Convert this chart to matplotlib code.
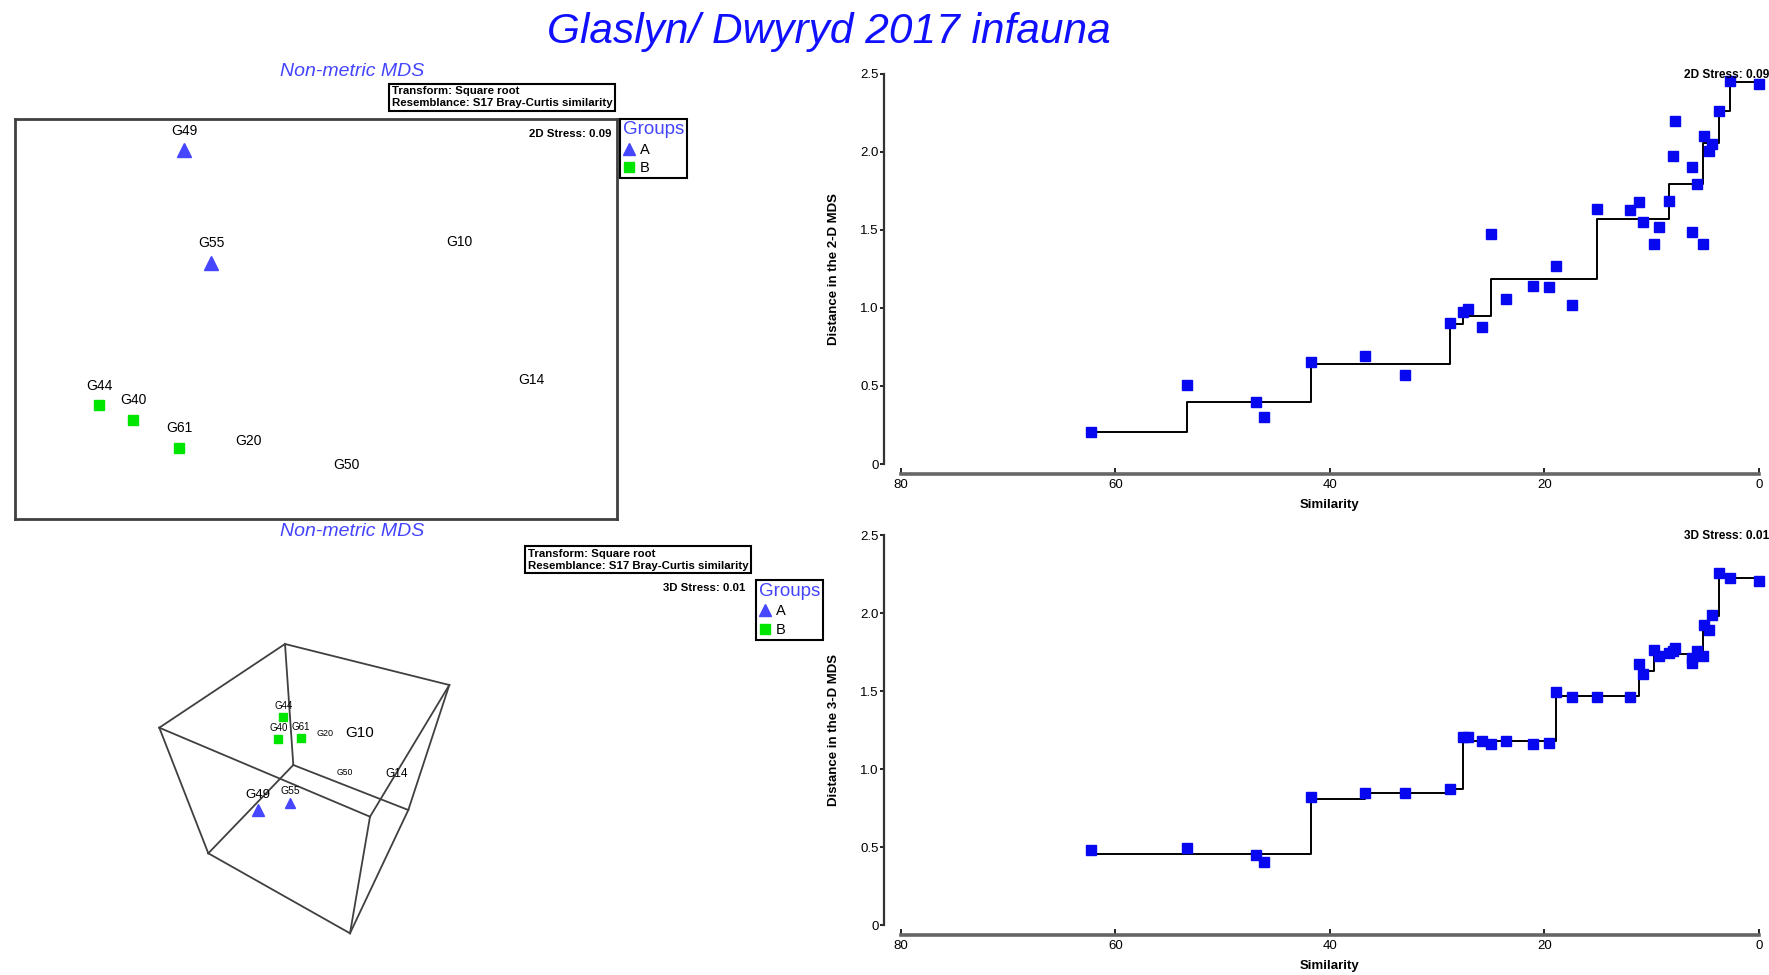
import matplotlib
matplotlib.use("Agg")
import matplotlib.pyplot as plt
from matplotlib.lines import Line2D

plt.rcParams['font.family'] = ['Liberation Sans', 'DejaVu Sans']

W, H = 1769, 975

BLUE_T = "#1010ff"      # main title
BLUE_S = "#4444ff"      # sub titles / legend titles
COL_A = "#4646ff"       # group A triangles
COL_B = "#00e600"       # group B squares
COL_SH = "#0808f0"      # shepard points

# --- nMDS ordination ------------------------------------------------------
samples = ["G49", "G55", "G10", "G14", "G44", "G40", "G61", "G20", "G50"]
groups = ["A", "A", "", "", "B", "B", "B", "", ""]

# 2D configuration
mds2_x = [-0.657, -0.522, 0.713, 1.073, -1.079, -0.910, -0.680, -0.337, 0.152]
mds2_y = [0.840, 0.278, 0.283, -0.403, -0.430, -0.503, -0.643, -0.703, -0.824]

# 3D configuration, projected to the screen plane
mds3_px = [-0.473, -0.150, 0.550, 0.917, -0.217, -0.267, -0.043, 0.200, 0.400]
mds3_py = [-0.250, -0.177, 0.341, -0.026, 0.683, 0.460, 0.467, 0.413, 0.021]
mds3_fs = [9.5, 7.5, 11, 8.5, 7, 7, 7, 6.5, 6.2]      # depth cue (label size)

# projected bounding cube of the 3D plot
cube_x = [-0.200, 1.443, -1.457, -0.117, 1.033, 0.650, -0.967, 0.450]
cube_y = [1.410, 1.000, 0.573, 0.200, -0.250, -0.317, -0.683, -1.483]
cube_edges = [(0, 1), (1, 5), (5, 2), (2, 0), (3, 4), (4, 7), (7, 6), (6, 3),
              (0, 3), (1, 4), (5, 7), (2, 6)]

# --- Shepard diagrams -----------------------------------------------------
similarity = [62.3, 53.3, 46.9, 46.1, 41.8, 36.7, 33.0, 28.8, 27.6, 27.1, 25.8, 25.0,
              23.6, 21.1, 19.6, 18.9, 17.4, 15.1, 12.0, 11.2, 10.8, 9.8, 9.3, 8.4,
              8.05, 7.8, 6.2, 6.2, 5.8, 5.25, 5.1, 4.7, 4.4, 3.75, 2.74, 0.0]
dist_2d = [0.203, 0.509, 0.400, 0.300, 0.652, 0.694, 0.571, 0.904, 0.972, 0.994, 0.880, 1.474,
           1.058, 1.139, 1.132, 1.271, 1.019, 1.635, 1.630, 1.682, 1.549, 1.410, 1.517, 1.688,
           1.976, 2.201, 1.902, 1.485, 1.795, 1.410, 2.105, 2.009, 2.051, 2.265, 2.453, 2.436]
dist_3d = [0.479, 0.494, 0.447, 0.404, 0.819, 0.847, 0.847, 0.872, 1.202, 1.202, 1.181, 1.160,
           1.181, 1.160, 1.166, 1.494, 1.464, 1.464, 1.464, 1.670, 1.606, 1.766, 1.723, 1.745,
           1.755, 1.777, 1.681, 1.713, 1.755, 1.723, 1.926, 1.894, 1.989, 2.255, 2.223, 2.202]

# monotone regression (step line), breakpoints
fit2_x = [62.3, 53.3, 41.8, 28.8, 27.6, 25.0, 15.1, 8.4, 5.25, 3.75, 2.74, 0.0]
fit2_y = [0.203, 0.400, 0.641, 0.897, 0.950, 1.186, 1.571, 1.795, 2.060, 2.265, 2.447, 2.447]
fit3_x = [62.3, 41.8, 36.7, 28.8, 27.6, 18.9, 11.2, 9.8, 5.25, 4.7, 3.75, 0.0]
fit3_y = [0.456, 0.809, 0.845, 0.872, 1.180, 1.468, 1.628, 1.734, 1.915, 1.979, 2.223, 2.223]

fig = plt.figure(figsize=(W / 100, H / 100), dpi=100)


def fx(px):
    return px / W


def fy(py):
    return 1 - py / H


def info_box(x, y):
    fig.text(fx(x), fy(y), "Transform: Square root\nResemblance: S17 Bray-Curtis similarity",
             ha="left", va="top", fontsize=8.2, fontweight="bold", linespacing=1.2,
             bbox=dict(boxstyle="square,pad=0.25", fc="white", ec="black", lw=1.5))


def group_legend(x, y):
    handles = [Line2D([], [], ls="none", marker="^", color=COL_A, ms=9),
               Line2D([], [], ls="none", marker="s", color=COL_B, ms=7)]
    leg = fig.legend(handles, ["A", "B"], loc="upper left", bbox_to_anchor=(fx(x), fy(y)),
                     title="Groups", title_fontsize=13.5, fontsize=10.5, frameon=True,
                     fancybox=False, edgecolor="black", framealpha=1, borderpad=0.2,
                     labelspacing=0.3, handlelength=0.8, handletextpad=0.35,
                     borderaxespad=0, alignment="left")
    leg.get_title().set_color(BLUE_S)
    leg.get_frame().set_linewidth(1.5)


fig.text(fx(829), fy(32), "Glaslyn/ Dwyryd 2017 infauna", ha="center", va="center",
         fontsize=30.5, style="italic", color=BLUE_T)

# ---- 2D MDS panel --------------------------------------------------------
ax2 = fig.add_axes([fx(14.7), fy(519), (617 - 14.7) / W, (519 - 118.5) / H])
ax2.set_xlim(-1.5, 1.5)
ax2.set_ylim(-0.997, 0.997)
ax2.set_xticks([])
ax2.set_yticks([])
for s in ax2.spines.values():
    s.set_linewidth(2)
    s.set_color("0.25")
for name, g, x, y in zip(samples, groups, mds2_x, mds2_y):
    if g == "A":
        ax2.plot(x, y, "^", color=COL_A, ms=10)
    elif g == "B":
        ax2.plot(x, y, "s", color=COL_B, ms=7.5)
    ax2.annotate(name, (x, y), xytext=(0, 14), textcoords="offset points",
                 ha="center", va="center", fontsize=10)
ax2.text(0.99, 0.975, "2D Stress: 0.09", transform=ax2.transAxes, ha="right", va="top",
         fontsize=8.2, fontweight="bold")

fig.text(fx(352.5), fy(71), "Non-metric MDS", ha="center", va="center",
         fontsize=14, style="italic", color=BLUE_S)
info_box(391.5, 86.5)
group_legend(620, 118.5)

# ---- 3D MDS panel --------------------------------------------------------
fig.text(fx(352), fy(532), "Non-metric MDS", ha="center", va="center",
         fontsize=14, style="italic", color=BLUE_S)
info_box(527.5, 549)
fig.text(fx(745), fy(588), "3D Stress: 0.01", ha="right", va="center",
         fontsize=8.2, fontweight="bold")
group_legend(756, 580)

ax3 = fig.add_axes([fx(130), fy(950), 350 / W, 330 / H])
ax3.set_xlim(-1.75, 1.75)
ax3.set_ylim(-1.65, 1.65)
ax3.axis("off")
for i, j in cube_edges:
    ax3.plot([cube_x[i], cube_x[j]], [cube_y[i], cube_y[j]], color="0.25", lw=1.3)
for name, g, x, y, fs in zip(samples, groups, mds3_px, mds3_py, mds3_fs):
    if g == "A":
        ax3.plot(x, y, "^", color=COL_A, ms=fs * 0.95)
    elif g == "B":
        ax3.plot(x, y, "s", color=COL_B, ms=6)
    ax3.annotate(name, (x, y), xytext=(0, fs * 1.15), textcoords="offset points",
                 ha="center", va="center", fontsize=fs)

# ---- Shepard diagrams ----------------------------------------------------


def shepard(bottom_px, dist, fit_x, fit_y, ylabel, stress, stress_y):
    ax = fig.add_axes([fx(900.7), fy(bottom_px), (1759 - 900.7) / W, 390 / H])
    ax.step(fit_x, fit_y, where="post", color="black", lw=1.4, zorder=2)
    ax.plot(similarity, dist, "s", color=COL_SH, ms=7, ls="none", zorder=3, clip_on=False)
    ax.set_xlim(80, 0)
    ax.set_ylim(0, 2.5)
    ax.set_xticks([80, 60, 40, 20, 0])
    ax.set_yticks([0, 0.5, 1.0, 1.5, 2.0, 2.5])
    ax.set_yticklabels(["0", "0.5", "1.0", "1.5", "2.0", "2.5"])
    for s in ("top", "right"):
        ax.spines[s].set_visible(False)
    ax.spines["left"].set_position(("outward", 12))
    ax.spines["bottom"].set_position(("outward", 7))
    ax.spines["left"].set_linewidth(1.6)
    ax.spines["left"].set_color("0.2")
    ax.spines["bottom"].set_linewidth(2.6)
    ax.spines["bottom"].set_color("0.4")
    ax.tick_params(axis="y", direction="out", length=3, width=1.2, labelsize=9.5, pad=1)
    ax.tick_params(axis="x", direction="in", length=4, width=1.2, labelsize=9.5, pad=4)
    ax.set_ylabel(ylabel, fontsize=9.5, fontweight="bold")
    ax.yaxis.set_label_coords(-(900.7 - 840) / 858.3, 0.5)
    ax.set_xlabel("Similarity", fontsize=9.5, fontweight="bold", va="center")
    ax.xaxis.set_label_coords(0.5, -41 / 390)
    fig.text(fx(1684), fy(stress_y), stress, ha="left", va="center",
             fontsize=8.6, fontweight="bold")
    return ax


shepard(464, dist_2d, fit2_x, fit2_y, "Distance in the 2-D MDS", "2D Stress: 0.09", 74.5)
shepard(925, dist_3d, fit3_x, fit3_y, "Distance in the 3-D MDS", "3D Stress: 0.01", 536)

fig.savefig("out.png", dpi=100)
